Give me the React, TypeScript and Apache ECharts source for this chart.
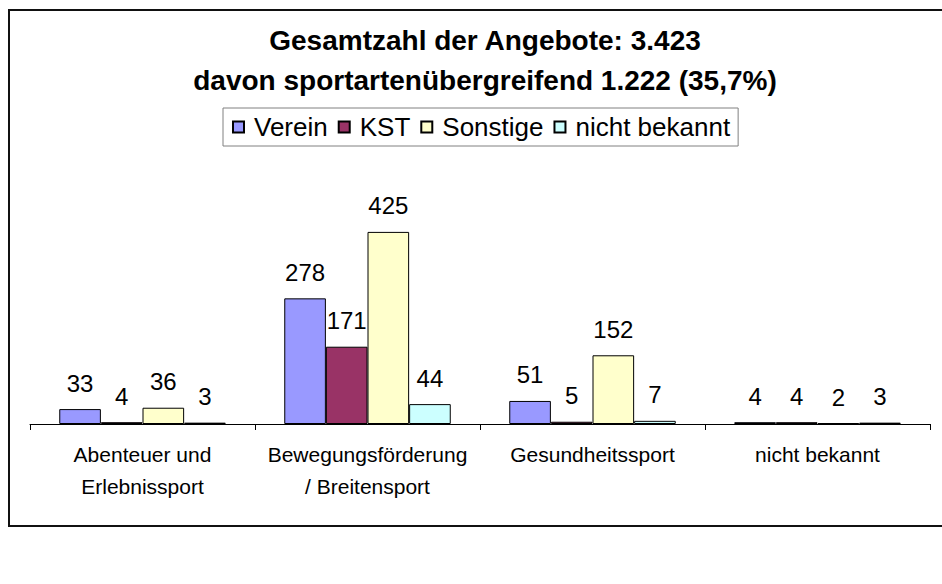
import React, { useEffect, useRef } from "react";
import * as echarts from "echarts";

const titleLines = [
  "Gesamtzahl der Angebote: 3.423",
  "davon sportartenübergreifend 1.222 (35,7%)",
];
const categories = [
  "Abenteuer und\nErlebnissport",
  "Bewegungsförderung\n/ Breitensport",
  "Gesundheitssport",
  "nicht bekannt",
];
const seriesNames = ["Verein", "KST", "Sonstige", "nicht bekannt"];
const verein = [33, 278, 51, 4];
const kst = [4, 171, 5, 4];
const sonstige = [36, 425, 152, 2];
const nichtBekannt = [3, 44, 7, 3];
const colors = ["#9999FF", "#993366", "#FFFFCC", "#CCFFFF"];

const FONT = 'Arial, "Liberation Sans", sans-serif';

export default function App() {
  const ref = useRef<HTMLDivElement>(null);
  useEffect(() => {
    if (!ref.current) return;
    const chart = echarts.init(ref.current, null, { renderer: "svg" });
    const values = [verein, kst, sonstige, nichtBekannt];
    chart.setOption({
      animation: false,
      backgroundColor: "#ffffff",
      textStyle: { fontFamily: FONT },
      graphic: [
        {
          type: "rect",
          shape: { x: 9, y: 10, width: 1000, height: 516 },
          style: { fill: "none", stroke: "#111", lineWidth: 2 },
          silent: true,
        },
        {
          type: "text",
          x: 485,
          y: 40,
          style: {
            text: titleLines[0],
            textAlign: "center",
            textVerticalAlign: "middle",
            fontFamily: FONT,
            fontWeight: "bold",
            fontSize: 28,
            fill: "#000",
          },
        },
        {
          type: "text",
          x: 485,
          y: 80,
          style: {
            text: titleLines[1],
            textAlign: "center",
            textVerticalAlign: "middle",
            fontFamily: FONT,
            fontWeight: "bold",
            fontSize: 28,
            fill: "#000",
          },
        },
      ],
      legend: {
        left: 223,
        top: 108,
        padding: [6, 8, 6, 9],
        borderColor: "#808080",
        borderWidth: 1,
        itemWidth: 11,
        itemHeight: 11,
        itemGap: 10,
        icon: "rect",
        textStyle: {
          fontFamily: FONT,
          fontSize: 26,
          color: "#000",
          padding: [0, 0, 0, 5],
          lineHeight: 26,
        },
        data: seriesNames,
      },
      grid: { left: 30, right: 12, top: 198, bottom: 160 },
      xAxis: {
        type: "category",
        data: categories,
        axisLine: { lineStyle: { color: "#000", width: 1 } },
        axisTick: { show: true, length: 6, lineStyle: { color: "#000" } },
        axisLabel: {
          color: "#000",
          fontFamily: FONT,
          fontSize: 21,
          lineHeight: 32,
          margin: 14,
          interval: 0,
        },
      },
      yAxis: {
        type: "value",
        min: 0,
        max: 500,
        show: false,
        splitLine: { show: false },
      },
      series: seriesNames.map((name, i) => ({
        name,
        type: "bar",
        data: values[i],
        barGap: "0%",
        barCategoryGap: "26%",
        itemStyle: { color: colors[i], borderColor: "#000", borderWidth: 1 },
        label: {
          show: true,
          position: "top",
          distance: 14,
          color: "#000",
          fontFamily: FONT,
          fontSize: 24,
        },
      })),
    });
    return () => chart.dispose();
  }, []);
  return (
    <div
      ref={ref}
      style={{
        position: "fixed",
        left: 0,
        top: 0,
        width: 942,
        height: 584,
        overflow: "hidden",
        background: "#fff",
      }}
    />
  );
}
